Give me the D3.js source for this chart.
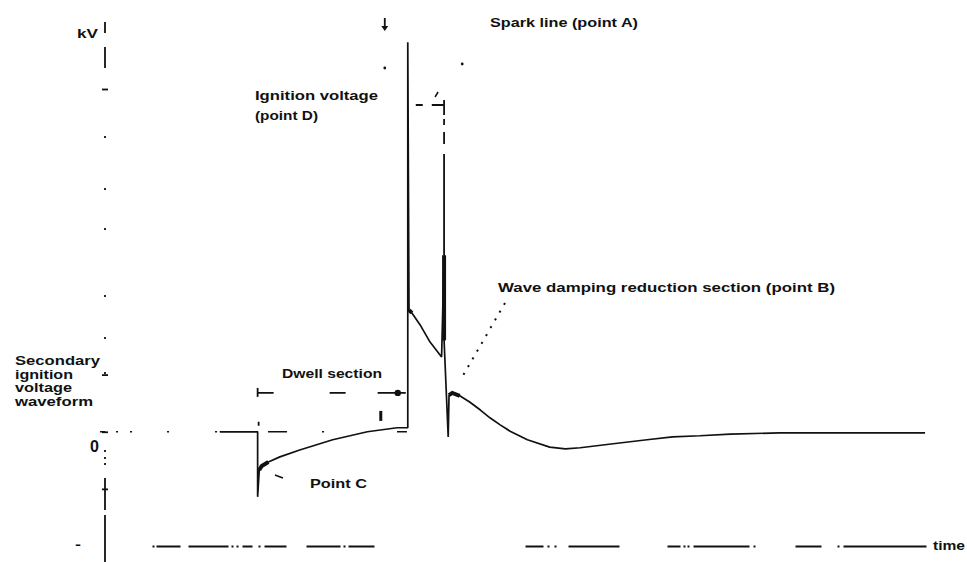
<!DOCTYPE html>
<html>
<head>
<meta charset="utf-8">
<script src="https://cdn.jsdelivr.net/npm/d3@7"></script>
<style>
  body { margin: 0; background: #fff; }
  text { font-family: "Liberation Sans", Arial, sans-serif; font-size: 13px; fill: #111; }
</style>
</head>
<body>
<div id="chart"></div>
<script>
// secondary ignition voltage waveform: time (0.1 ms steps) and voltage (kV)
const waveTime = [13.9, 18.5, 18.5, 18.7, 19.0, 19.8, 21.2, 23.6, 27.6, 31.8, 35.4, 36.5,
  36.7, 36.7, 36.85, 37.2, 38.2, 39.4, 40.8, 41.1, 41.1, 41.6, 41.7, 42.1, 43.0, 44.2, 45.5, 46.7, 47.9,
  49.1, 51.2, 53.9, 55.8, 57.6, 61.6, 65.7, 68.8, 72.1, 75.8, 81.8, 91.5, 99.4]
const waveKV = [0, 0, -1.14, -0.67, -0.6, -0.53, -0.44, -0.32, -0.14, 0, 0.07, 0.07,
  0.07, 6.82, 2.13, 2.08, 1.87, 1.57, 1.31, 3.09, 1.6, -0.09, 0.64, 0.68, 0.63, 0.52, 0.38, 0.24, 0.12,
  0.01, -0.14, -0.27, -0.30, -0.28, -0.21, -0.14, -0.09, -0.07, -0.04, -0.02, -0.02, -0.02]

// heavier ink on parts of the trace (index ranges into the arrays above)
const heavyParts = [[3, 5], [14, 15], [19, 20], [22, 24]]

// events on the time axis
const dwellStart = 18.5, sparkStart = 36.7, sparkEnd = 41.1

const yTicks = [-1, 0, 1, 6]
const sideLabel = ["Secondary", "ignition", "voltage", "waveform"]

const width = 967, height = 562

const svg = d3.select("#chart")
  .append("svg")
  .attr("width", width)
  .attr("height", height)

const x = d3.scaleLinear().domain([0, 100]).range([105, 930])
const y = d3.scaleLinear().domain([-2, 6]).range([546, 89])

const data = waveTime.map((t, i) => ({t: t, kv: waveKV[i]}))

// broken-looking axis lines, like the scanned original
svg.append("line")
  .attr("x1", x(0)).attr("x2", x(0))
  .attr("y1", 22).attr("y2", height)
  .attr("stroke", "#111").attr("stroke-width", 1.8)
  .attr("stroke-dasharray", "11,14,21,68,2,50,2,38,2,65,2,40,2,33,2,76,2,5,2,4,2,13,32,5,60")

const yAxis = svg.append("g")
  .attr("transform", "translate(" + (x(0) + 3) + ",0)")
  .call(d3.axisLeft(y).tickValues(yTicks).tickSize(6).tickPadding(3)
    .tickFormat(d => d === 0 ? "0" : ""))
yAxis.select(".domain").remove()
yAxis.selectAll("line").attr("stroke", "#111").attr("stroke-width", 1.8)
yAxis.selectAll("text")
  .attr("dy", 20)
  .attr("font-size", 16)
  .style("font-size", "16px")
  .style("font-weight", "bold")
  .attr("fill", "#111")

const xAxis = svg.append("g")
  .attr("transform", "translate(0," + y(-2) + ")")
  .call(d3.axisBottom(x).tickValues([]).tickSizeOuter(0))
xAxis.select(".domain")
  .attr("stroke", "#111").attr("stroke-width", 1.8)
  .attr("stroke-dasharray", "0,47,2,2,24,8,40,3,2,3,2,4,10,6,2,4,22,20,34,3,2,3,26,151,18,4,2,5,2,12,51,48,13,3,2,2,2,4,56,4,2,40,26,16,2,4,83,20")

// zero reference line
svg.append("line")
  .attr("x1", x(-0.6)).attr("x2", x(36.6))
  .attr("y1", y(0)).attr("y2", y(0))
  .attr("stroke", "#111").attr("stroke-width", 1.6)
  .attr("stroke-dasharray", "5,11,2,12,2,35,2,46,2,3,38,10,19,35,2,73,10,20")

// the trace
const line = d3.line().x(d => x(d.t)).y(d => y(d.kv))

svg.append("path")
  .datum(data)
  .attr("d", line)
  .attr("fill", "none")
  .attr("stroke", "#111")
  .attr("stroke-width", 1.7)
  .attr("stroke-linejoin", "bevel")

heavyParts.forEach(function(r) {
  svg.append("path")
    .datum(data.slice(r[0], r[1] + 1))
    .attr("d", line)
    .attr("fill", "none")
    .attr("stroke", "#111")
    .attr("stroke-width", 4)
})

// dwell section dimension
const dwY = y(0.68)
svg.append("line")
  .attr("x1", x(dwellStart)).attr("x2", x(sparkStart) - 2)
  .attr("y1", dwY).attr("y2", dwY)
  .attr("stroke", "#111").attr("stroke-width", 1.6)
  .attr("stroke-dasharray", "16,56,16,32,30")
svg.append("line")
  .attr("x1", x(dwellStart)).attr("x2", x(dwellStart))
  .attr("y1", dwY - 5).attr("y2", dwY + 4)
  .attr("stroke", "#111").attr("stroke-width", 1.8)
svg.append("line")
  .attr("x1", x(dwellStart) + 1).attr("x2", x(dwellStart) + 1)
  .attr("y1", y(0) - 10).attr("y2", y(0) - 6)
  .attr("stroke", "#111").attr("stroke-width", 1.8)
svg.append("circle")
  .attr("cx", x(sparkStart) - 10).attr("cy", dwY)
  .attr("r", 3.2).attr("fill", "#111")
svg.append("line")
  .attr("x1", x(sparkStart) - 27).attr("x2", x(sparkStart) - 27)
  .attr("y1", dwY + 18).attr("y2", dwY + 28)
  .attr("stroke", "#111").attr("stroke-width", 3)

// spark duration dimension and extension line
const spY = y(5.72)
svg.append("line")
  .attr("x1", x(sparkStart)).attr("x2", x(sparkEnd))
  .attr("y1", spY).attr("y2", spY)
  .attr("stroke", "#111").attr("stroke-width", 2.2)
  .attr("stroke-dasharray", "0,8,7,9,12,50")
svg.append("line")
  .attr("x1", x(sparkEnd) - 9).attr("x2", x(sparkEnd) - 6)
  .attr("y1", spY - 8).attr("y2", spY - 13)
  .attr("stroke", "#111").attr("stroke-width", 1.5)
svg.append("line")
  .attr("x1", x(sparkEnd)).attr("x2", x(sparkEnd))
  .attr("y1", spY - 5).attr("y2", y(3.09))
  .attr("stroke", "#111").attr("stroke-width", 1.8)
  .attr("stroke-dasharray", "15,4,6,7,12,10,300")

// arrow above the ignition peak
const arX = x(sparkStart) - 23
svg.append("line")
  .attr("x1", arX).attr("x2", arX).attr("y1", 18).attr("y2", 27)
  .attr("stroke", "#111").attr("stroke-width", 1.8)
svg.append("path")
  .attr("d", "M" + (arX - 3.5) + ",26 L" + (arX + 3.5) + ",26 L" + arX + ",31 Z")
  .attr("fill", "#111")
svg.append("circle").attr("cx", arX).attr("cy", 68).attr("r", 1.4).attr("fill", "#111")
svg.append("circle").attr("cx", x(43.3)).attr("cy", 64).attr("r", 1.4).attr("fill", "#111")

// leaders
svg.append("line")
  .attr("x1", 505).attr("y1", 303)
  .attr("x2", x(43.3)).attr("y2", y(0.96))
  .attr("stroke", "#111").attr("stroke-width", 2)
  .attr("stroke-dasharray", "2,7")
svg.append("line")
  .attr("x1", 283).attr("y1", 478)
  .attr("x2", 275).attr("y2", 475)
  .attr("stroke", "#111").attr("stroke-width", 1.6)

// text
function label(txt, px, py, len) {
  svg.append("text")
    .attr("x", px).attr("y", py)
    .attr("textLength", len)
    .attr("lengthAdjust", "spacingAndGlyphs")
    .style("font-weight", "bold")
    .text(txt)
}

label("kV", 77, 38, 21)
label("Ignition voltage", 255, 100, 123)
label("(point D)", 255, 120, 63)
label("Spark line (point A)", 490, 27, 148)
label("Dwell section", 282, 378, 100)
label("Point C", 310, 488, 57)
label("Wave damping reduction section (point B)", 498, 292, 337)
label("time", 933, 550, 32)
label("-", 75, 549, 6)

const sideWidths = [85, 58, 57, 78]
sideLabel.forEach(function(s, i) {
  label(s, 15, 365 + i * 13.5, sideWidths[i])
})
</script>
</body>
</html>
